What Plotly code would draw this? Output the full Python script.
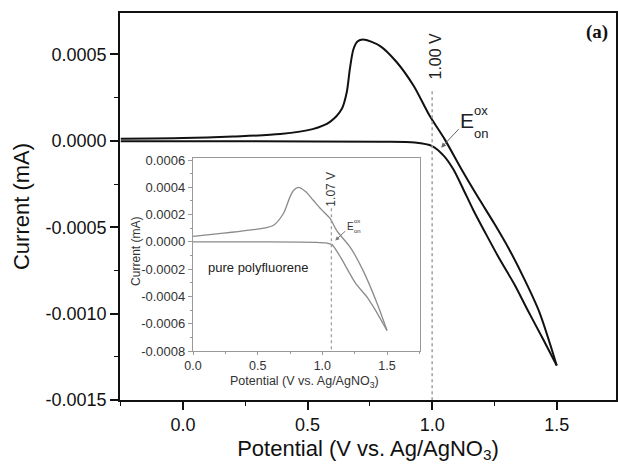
import plotly.graph_objects as go

# ---- main cyclic voltammogram ----
main_upper_x = [-0.25, 0.0, 0.2, 0.39, 0.52, 0.59, 0.637, 0.657, 0.67, 0.684, 0.70, 0.723,
                0.79, 0.858, 0.925, 0.99, 1.05, 1.12, 1.19, 1.25, 1.31, 1.37, 1.43, 1.5]
main_upper_y = [0.000012, 0.000016, 0.000025, 0.000039, 0.000068, 0.00011, 0.000184, 0.00028,
                0.00042, 0.00053, 0.000575, 0.000587, 0.00055, 0.000455, 0.00032, 0.000145,
                0.00001, -0.00017, -0.00034, -0.00048, -0.00063, -0.0008, -0.00099, -0.0013]
main_lower_x = [-0.25, 0.3, 0.8, 0.93, 1.0, 1.047, 1.085, 1.125, 1.165, 1.22, 1.273, 1.33,
                1.38, 1.446, 1.5]
main_lower_y = [-0.000002, -0.000003, -0.000005, -0.00001, -0.00003, -0.000087, -0.000165,
                -0.00028, -0.0004, -0.00055, -0.00069, -0.00083, -0.00097, -0.00115, -0.0013]

# ---- inset: pure polyfluorene ----
inset_upper_x = [0.0, 0.2, 0.416, 0.62, 0.70, 0.75, 0.78, 0.815, 0.87, 0.93, 0.99, 1.061,
                 1.113, 1.216, 1.32, 1.423, 1.5]
inset_upper_y = [0.00004, 0.00006, 0.000084, 0.00012, 0.00021, 0.00033, 0.00038, 0.0004,
                 0.00037, 0.000305, 0.00024, 0.00017, 0.00008, -0.00004, -0.00022, -0.00045,
                 -0.00065]
inset_lower_x = [0.0, 0.5, 0.95, 1.03, 1.074, 1.12, 1.164, 1.255, 1.35, 1.41, 1.47, 1.5]
inset_lower_y = [0.0, 0.0, -0.000003, -0.000008, -0.00002, -0.00008, -0.00015, -0.0003,
                 -0.00041, -0.0005, -0.0006, -0.00065]

# ---- ticks ----
main_xticks = [0.0, 0.5, 1.0, 1.5]
main_xtext = ["0.0", "0.5", "1.0", "1.5"]
main_yticks = [0.0005, 0.0, -0.0005, -0.0010, -0.0015]
main_ytext = ["0.0005", "0.0000", "-0.0005", "-0.0010", "-0.0015"]
inset_xticks = [0.0, 0.5, 1.0, 1.5]
inset_xtext = ["0.0", "0.5", "1.0", "1.5"]
inset_yticks = [0.0006, 0.0004, 0.0002, 0.0, -0.0002, -0.0004, -0.0006, -0.0008]
inset_ytext = ["0.0006", "0.0004", "0.0002", "0.0000", "-0.0002", "-0.0004", "-0.0006", "-0.0008"]

main_onset = 1.00
inset_onset = 1.07

FONT = "Arial, Liberation Sans, sans-serif"

fig = go.Figure()

for xs, ys in [(main_upper_x, main_upper_y), (main_lower_x, main_lower_y)]:
    fig.add_trace(go.Scatter(x=xs, y=ys, mode="lines", xaxis="x", yaxis="y",
                             line=dict(color="#111111", width=2, shape="spline", smoothing=0.8),
                             showlegend=False, hoverinfo="skip"))

for xs, ys in [(inset_upper_x, inset_upper_y), (inset_lower_x, inset_lower_y)]:
    fig.add_trace(go.Scatter(x=xs, y=ys, mode="lines", xaxis="x2", yaxis="y2",
                             line=dict(color="#8a8a8a", width=1.3, shape="spline", smoothing=0.8),
                             showlegend=False, hoverinfo="skip"))

shapes = [
    dict(type="line", xref="x", yref="y", x0=main_onset, x1=main_onset, y0=0.000287, y1=-0.0015,
         line=dict(color="#a0a0a0", width=1.5, dash="dot")),
    dict(type="line", xref="x2", yref="y2", x0=inset_onset, x1=inset_onset, y0=0.000246, y1=-0.0008,
         line=dict(color="#a0a0a0", width=1.3, dash="dot")),
]


def ann(text, x, y, xref, yref, size, color="#222", angle=0, family=FONT):
    return dict(text=text, x=x, y=y, xref=xref, yref=yref, showarrow=False,
                xanchor="center", yanchor="middle", textangle=angle,
                font=dict(family=family, size=size, color=color))


annotations = [
    ann("<b>(a)</b>", 0.962, 0.952, "paper", "paper", 19, "#111",
        family="Times New Roman, Liberation Serif, serif"),
    ann("1.00 V", 1.012, 0.000489, "x", "y", 16, angle=-90),
    # E_on^ox (main): "E" carries the leader arrow pointing at the onset
    dict(text="E", x=1.036, y=-0.00004, ax=1.141, ay=0.00012, xref="x", yref="y",
         axref="x", ayref="y", showarrow=True, arrowhead=2, arrowsize=1, arrowwidth=1,
         arrowcolor="#666", font=dict(family=FONT, size=21, color="#222")),
    ann("ox", 1.197, 0.000175, "x", "y", 13),
    ann("on", 1.197, 0.00004, "x", "y", 13),
    # inset texts
    ann("1.07 V", inset_onset, 0.000386, "x2", "y2", 12, "#333", angle=-90),
    dict(text="E", x=1.10, y=0.00001, ax=1.216, ay=0.000113, xref="x2", yref="y2",
         axref="x2", ayref="y2", showarrow=True, arrowhead=2, arrowsize=0.8, arrowwidth=1,
         arrowcolor="#777", font=dict(family=FONT, size=10, color="#333")),
    ann("ox", 1.27, 0.00015, "x2", "y2", 6, "#333"),
    ann("on", 1.27, 0.00008, "x2", "y2", 6, "#333"),
    ann("pure polyfluorene", 0.503, -0.000189, "x2", "y2", 13),
    ann("Current (mA)", 0.032, 0.385, "paper", "paper", 12, "#333", angle=-90),
    ann("Potential (V vs. Ag/AgNO<sub>3</sub>)", 0.371, 0.047, "paper", "paper", 12.5, "#333"),
]

fig.update_layout(
    width=618, height=464,
    margin=dict(l=120, r=2, t=13, b=64),
    paper_bgcolor="white", plot_bgcolor="white",
    font=dict(family=FONT, color="#111"),
    xaxis=dict(range=[-0.253, 1.738], tickmode="array", tickvals=main_xticks, ticktext=main_xtext,
               automargin=False,
               showgrid=False, zeroline=False, showline=True, linecolor="#111", linewidth=1.5,
               mirror=True, ticks="outside", ticklen=8, tickwidth=1.5, tickcolor="#111",
               tickfont=dict(size=18, color="#111"),
               minor=dict(tickmode="linear", tick0=0, dtick=0.25, ticks="outside", ticklen=4,
                          tickcolor="#111", tickwidth=1.2),
               title=dict(text="Potential (V vs. Ag/AgNO<sub>3</sub>)", font=dict(size=22, color="#111"),
                          standoff=6)),
    yaxis=dict(range=[-0.0015, 0.00074], tickmode="array", tickvals=main_yticks, ticktext=main_ytext,
               automargin=False,
               showgrid=False, zeroline=False, showline=True, linecolor="#111", linewidth=1.5,
               mirror=True, ticks="outside", ticklen=8, tickwidth=1.5, tickcolor="#111",
               tickfont=dict(size=18, color="#111"),
               minor=dict(tickmode="linear", tick0=0, dtick=0.00025, ticks="outside", ticklen=4,
                          tickcolor="#111", tickwidth=1.2),
               title=dict(text="Current (mA)", font=dict(size=22, color="#111"), standoff=10)),
    xaxis2=dict(domain=[0.1472, 0.6048], anchor="y2", range=[0, 1.755], tickmode="array",
                automargin=False,
                tickvals=inset_xticks, ticktext=inset_xtext, showgrid=False, zeroline=False,
                showline=True, linecolor="#999", linewidth=1.2, mirror=True, ticks="outside",
                ticklen=3, tickcolor="#999", tickfont=dict(size=12.5, color="#333"),
                minor=dict(tickmode="linear", tick0=0, dtick=0.25, ticks="outside", ticklen=2,
                           tickcolor="#999")),
    yaxis2=dict(domain=[0.1266, 0.6253], anchor="x2", range=[-0.0008, 0.000615], tickmode="array",
                automargin=False,
                tickvals=inset_yticks, ticktext=inset_ytext, showgrid=False, zeroline=False,
                showline=True, linecolor="#999", linewidth=1.2, mirror=True, ticks="outside",
                ticklen=4, tickcolor="#999", tickfont=dict(size=13, color="#333"),
                minor=dict(tickmode="linear", tick0=0, dtick=0.0001, ticks="outside", ticklen=2,
                           tickcolor="#999")),
    shapes=shapes,
    annotations=annotations,
)

fig.write_html("out.html", config={"displayModeBar": False},
               post_script="document.body.style.margin='0';document.body.style.overflow='hidden';")
